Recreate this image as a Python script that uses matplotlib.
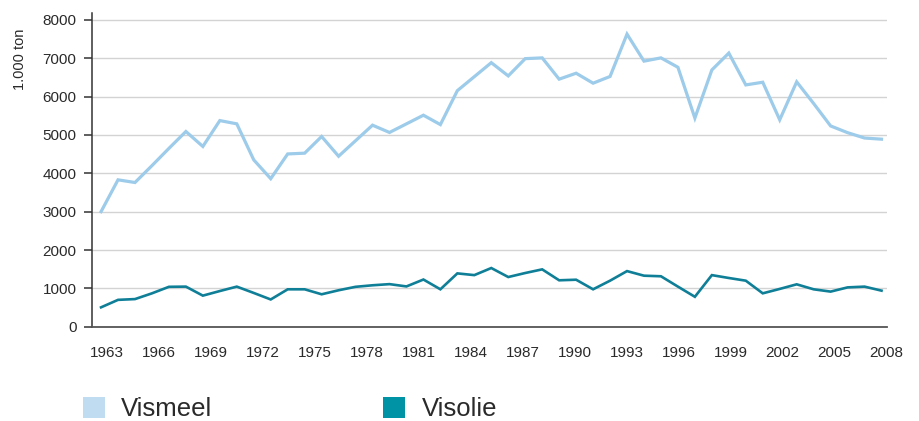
import numpy as np
import matplotlib
matplotlib.use("Agg")
import matplotlib.pyplot as plt
from matplotlib.patches import Patch

# --- data (1.000 ton), 47 points, left to right ---
vismeel = [3000, 3830, 3760, 4200, 4650, 5090, 4700, 5375, 5290, 4350,
           3860, 4505, 4525, 4960, 4445, 4850, 5255, 5065, 5290, 5515,
           5270, 6155, 6520, 6885, 6540, 6990, 7010, 6455, 6610, 6350,
           6525, 7630, 6925, 7010, 6765, 5440, 6695, 7135, 6305, 6375,
           5395, 6385, 5820, 5235, 5060, 4920, 4890]
visolie = [505, 700, 720, 870, 1040, 1045, 810, 930, 1045, 880,
           710, 975, 975, 845, 950, 1040, 1080, 1110, 1050, 1230,
           975, 1390, 1345, 1530, 1295, 1400, 1495, 1210, 1225, 975,
           1200, 1450, 1330, 1315, 1045, 780, 1345, 1270, 1200, 870,
           985, 1105, 975, 915, 1025, 1045, 940]
year_labels = [str(y) for y in range(1963, 2009, 3)]
series_names = ["Vismeel", "Visolie"]

LIGHT_LINE, LIGHT_PATCH = "#9dcbea", "#bfdcf1"
DARK_LINE, DARK_PATCH = "#0f7f98", "#0093a6"
TXT = "#2a2a2a"

plt.rcParams["font.family"] = ["Liberation Sans", "DejaVu Sans"]

fig = plt.figure(figsize=(9.2, 4.21), dpi=100)
ax = fig.add_axes([0.0997, 0.224, 0.864, 0.746])

x = np.arange(len(vismeel))
ax.plot(x, vismeel, color=LIGHT_LINE, lw=2.3, solid_joinstyle="miter", zorder=3)
ax.plot(x, visolie, color=DARK_LINE, lw=1.9, solid_joinstyle="miter", zorder=3)

ax.set_xlim(-0.55, len(x) - 1 + 0.29)
ax.set_ylim(0, 8190)
ax.set_yticks(range(0, 8001, 1000))
ax.yaxis.grid(True, color="#d3d3d3", lw=1.0)
ax.set_axisbelow(True)

# year labels spread evenly over the width, as in the original
ax.set_xticks(np.linspace(0.34, len(x) - 1 + 0.3, len(year_labels)))
ax.set_xticklabels(year_labels)
ax.tick_params(axis="x", length=0, pad=14, labelsize=11, labelcolor=TXT)
ax.tick_params(axis="y", length=6, width=1.1, color="#333333", pad=5,
               labelsize=11, labelcolor=TXT)

for s in ("top", "right"):
    ax.spines[s].set_visible(False)
ax.spines["left"].set_color("#333333")
ax.spines["left"].set_linewidth(1.1)
ax.spines["bottom"].set_color("#555555")
ax.spines["bottom"].set_linewidth(1.3)

ax.set_ylabel("1.000 ton", fontsize=10.5, color=TXT)
ax.yaxis.set_label_coords(-0.082, 0.85)

handles = [Patch(facecolor=LIGHT_PATCH, edgecolor="none"),
           Patch(facecolor=DARK_PATCH, edgecolor="none")]
fig.legend(handles, series_names, loc="center left", bbox_to_anchor=(0.09, 0.028),
           ncol=2, frameon=False, fontsize=18.5, handlelength=0.85, handleheight=0.85,
           handletextpad=0.65, columnspacing=6.63, borderpad=0, borderaxespad=0,
           labelcolor=TXT)

fig.savefig("out.png", dpi=100)
